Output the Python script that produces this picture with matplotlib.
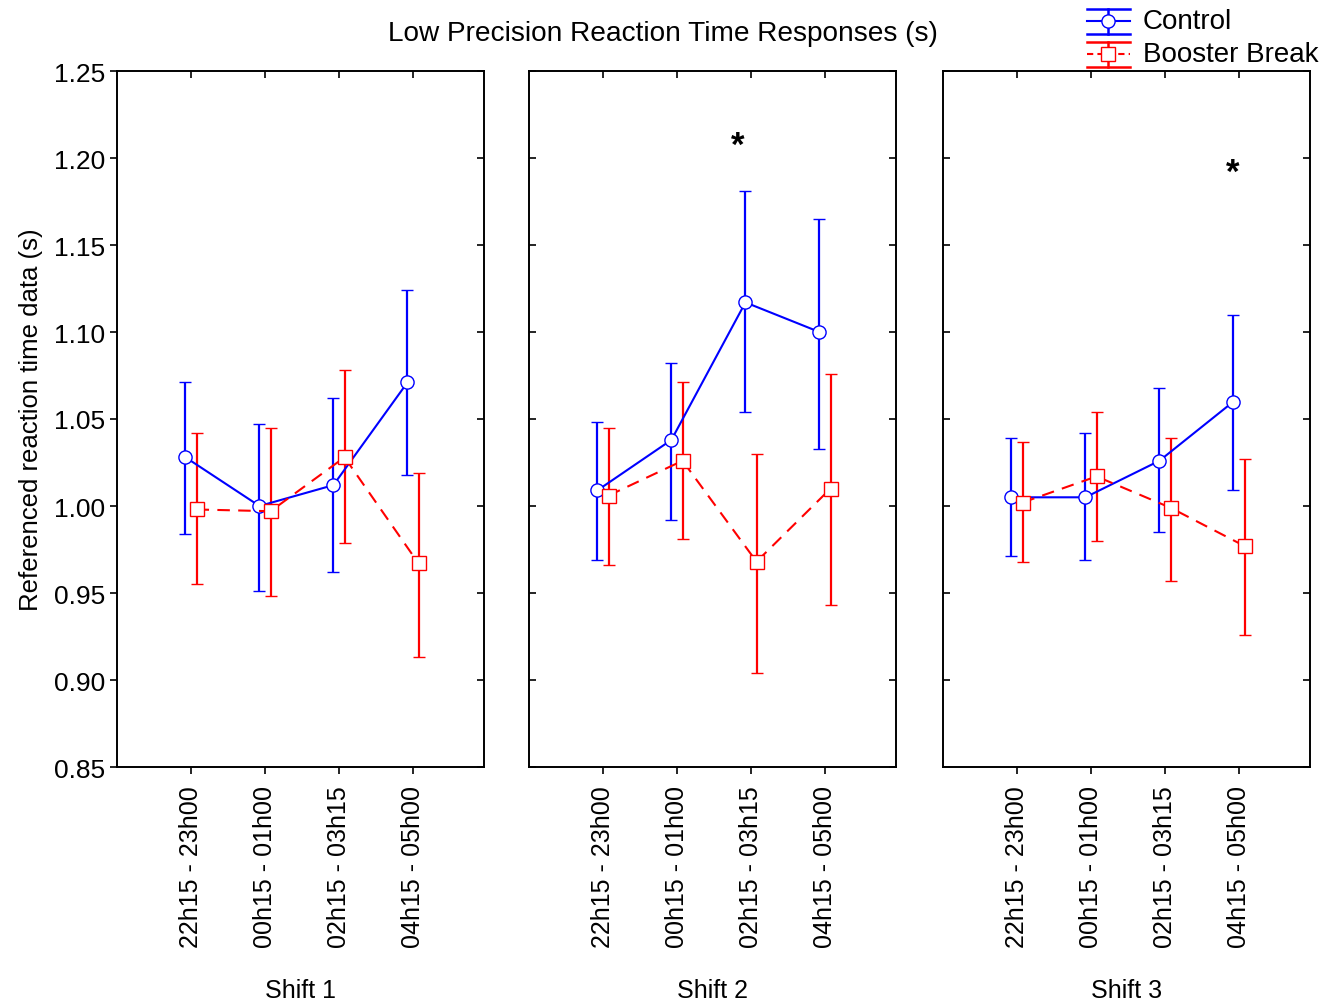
import matplotlib
matplotlib.use("Agg")
import matplotlib.pyplot as plt
import numpy as np
from matplotlib.lines import Line2D

plt.rcParams["font.family"] = ["Liberation Sans", "DejaVu Sans"]

# ---- data ----
periods = ["22h15 - 23h00", "00h15 - 01h00", "02h15 - 03h15", "04h15 - 05h00"]
shifts = ["Shift 1", "Shift 2", "Shift 3"]

control_mean = [[1.028, 1.000, 1.012, 1.071],
                [1.009, 1.038, 1.117, 1.100],
                [1.005, 1.005, 1.026, 1.060]]
control_hi = [[1.071, 1.047, 1.062, 1.124],
              [1.048, 1.082, 1.181, 1.165],
              [1.039, 1.042, 1.068, 1.110]]
control_lo = [[0.984, 0.951, 0.962, 1.018],
              [0.969, 0.992, 1.054, 1.033],
              [0.971, 0.969, 0.985, 1.009]]

booster_mean = [[0.998, 0.997, 1.028, 0.967],
                [1.006, 1.026, 0.968, 1.010],
                [1.002, 1.017, 0.999, 0.977]]
booster_hi = [[1.042, 1.045, 1.078, 1.019],
              [1.045, 1.071, 1.030, 1.076],
              [1.037, 1.054, 1.039, 1.027]]
booster_lo = [[0.955, 0.948, 0.979, 0.913],
              [0.966, 0.981, 0.904, 0.943],
              [0.968, 0.980, 0.957, 0.926]]

# significance stars: (shift index, x in category units, y)
stars = [(1, 1.82, 1.207), (2, 2.92, 1.192)]

W, H = 1340, 1003
fig = plt.figure(figsize=(W / 100, H / 100), dpi=100)

lefts = [117, 529, 943]
pw, top, bot = 367, 72, 768
x = np.arange(len(periods))
off = 0.075

for i, l in enumerate(lefts):
    ax = fig.add_axes([l / W, 1 - bot / H, pw / W, (bot - top) / H])
    cm = np.array(control_mean[i]); bm = np.array(booster_mean[i])
    ax.errorbar(x - off, cm,
                yerr=[cm - np.array(control_lo[i]), np.array(control_hi[i]) - cm],
                color="#0000ff", lw=1.5, elinewidth=1.6, capsize=4, capthick=1.6,
                marker="o", ms=9.5, mfc="white", mec="#0000ff", mew=1.0, zorder=3)
    ax.errorbar(x + off, bm,
                yerr=[bm - np.array(booster_lo[i]), np.array(booster_hi[i]) - bm],
                color="#ff0000", lw=1.5, ls="--", dashes=(6, 4), elinewidth=1.6,
                capsize=4, capthick=1.6,
                marker="s", ms=9.5, mfc="white", mec="#ff0000", mew=1.0, zorder=3)
    for s, px, y in stars:
        if s == i:
            ax.text(px, y, "*", ha="center", va="center", fontsize=25,
                    fontweight="bold")
    ax.set_xlim(-1.0, 3.96)
    ax.set_ylim(0.85, 1.25)
    ax.set_yticks(np.arange(0.85, 1.2501, 0.05))
    ax.set_xticks(x)
    ax.set_xticklabels(periods, rotation=90, fontsize=18)
    ax.set_xlabel(shifts[i], fontsize=18, labelpad=22)
    for sp in ax.spines.values():
        sp.set_linewidth(1.4)
    ax.tick_params(axis="x", which="both", direction="out", length=5, width=1.2,
                   top=True, labeltop=False, pad=8)
    ax.tick_params(axis="y", right=True, length=5, width=1.2, labelsize=19)
    # top ticks inward, bottom ticks outward
    for t in ax.xaxis.get_major_ticks():
        t.tick2line.set_marker(3)  # TICKDOWN
    if i == 0:
        ax.tick_params(axis="y", direction="out")
        for t in ax.yaxis.get_major_ticks():
            t.tick2line.set_marker(0)  # TICKLEFT (inward on right spine)
        ax.set_ylabel("Referenced reaction time data (s)", fontsize=18.5, labelpad=8)
    else:
        ax.tick_params(axis="y", direction="in", labelleft=False)

fig.text(663 / W, 1 - 34 / H, "Low Precision Reaction Time Responses (s)",
         ha="center", va="center", fontsize=20.2)

# ---- legend drawn by hand ----
def legend_entry(yc, color, ls, marker, label):
    x0, x1, xm = 1087 / W, 1130 / W, 1108 / W
    d = 12.5 / H
    yc = 1 - yc / H
    for yy in (yc + d, yc - d):
        fig.add_artist(Line2D([x0, x1], [yy, yy], color=color, lw=1.8))
    fig.add_artist(Line2D([xm, xm], [yc - d, yc + d], color=color, lw=1.8))
    fig.add_artist(Line2D([x0, x1], [yc, yc], color=color, lw=1.5, ls=ls))
    fig.add_artist(Line2D([xm], [yc], color=color, marker=marker, ms=9.5,
                          mfc="white", mec=color, mew=1.0, ls="none"))
    fig.text(1143 / W, yc, label, ha="left", va="center", fontsize=20)

legend_entry(22, "#0000ff", "-", "o", "Control")
legend_entry(55, "#ff0000", (0, (3, 2)), "s", "Booster Break")

fig.savefig("out.png", dpi=100)
